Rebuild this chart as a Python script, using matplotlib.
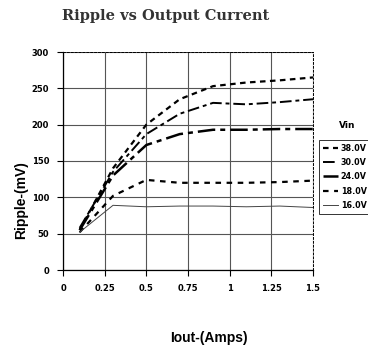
import matplotlib
matplotlib.use("Agg")
import matplotlib.pyplot as plt

iout = [0.1, 0.3, 0.5, 0.7, 0.9, 1.1, 1.3, 1.5]
labels = ["38.0V", "30.0V", "24.0V", "18.0V", "16.0V"]
v38 = [55, 140, 200, 235, 253, 258, 261, 265]
v30 = [58, 135, 187, 215, 230, 228, 231, 235]
v24 = [55, 130, 172, 187, 193, 193, 194, 194]
v18 = [52, 102, 124, 120, 120, 120, 121, 123]
v16 = [52, 89, 87, 88, 88, 87, 88, 86]
xticks = [0, 0.25, 0.5, 0.75, 1, 1.25, 1.5]
xticklabels = ["0", "0.25", "0.5", "0.75", "1", "1.25", "1.5"]
yticks = [0, 50, 100, 150, 200, 250, 300]

fig = plt.figure(figsize=(3.68, 3.49), dpi=100)
ax = fig.add_axes([63/368, 1-270/349, 250/368, 218/349])

styles = [
    dict(color="black", lw=1.6, dashes=(2.5, 2)),
    dict(color="black", lw=1.4, dashes=(6, 2, 2, 2)),
    dict(color="black", lw=1.8, dashes=(7, 2, 2, 2)),
    dict(color="black", lw=1.6, dashes=(2.5, 2.5)),
    dict(color="#444444", lw=0.7, linestyle="-"),
]
series = [v38, v30, v24, v18, v16]
for lab, s, st in zip(labels, series, styles):
    ax.plot(iout, s, label=lab, **st)

ax.set_xlim(0, 1.5)
ax.set_ylim(0, 300)
ax.set_xticks(xticks)
ax.set_xticklabels(xticklabels)
ax.set_yticks(yticks)
ax.grid(True, color="#555555", lw=0.8)
ax.set_axisbelow(True)
for sp in ["top", "right"]:
    ax.spines[sp].set_linestyle((0, (2, 2)))
    ax.spines[sp].set_linewidth(0.7)
for sp in ["left", "bottom"]:
    ax.spines[sp].set_linewidth(0.9)
ax.tick_params(direction="out", length=4, width=0.8, labelsize=6, pad=6)
for t in ax.get_xticklabels() + ax.get_yticklabels():
    t.set_fontweight("bold")

fig.text(166/368, 1-16/349, "Ripple vs Output Current", ha="center", va="center",
         fontsize=10.5, fontweight="bold", color="#333333",
         family=["DejaVu Serif", "DejaVu Sans"])
fig.text(209/368, 1-338/349, "Iout-(Amps)", ha="center", va="center",
         fontsize=10, fontweight="bold", family=["Liberation Sans Narrow", "Liberation Sans", "DejaVu Sans"])
fig.text(21/368, 1-200/349, "Ripple-(mV)", ha="center", va="center", rotation=90,
         fontsize=10, fontweight="bold", family=["Liberation Sans Narrow", "Liberation Sans", "DejaVu Sans"])
fig.text(347/368, 1-126/349, "Vin", ha="center", va="center", fontsize=6.5, fontweight="bold")

leg = fig.legend(loc="upper left", bbox_to_anchor=(319/368, 1-140/349),
                 prop=dict(size=5.8, weight="bold"), frameon=True, fancybox=False,
                 edgecolor="black", handlelength=1.9, labelspacing=0.66,
                 borderpad=0.45, handletextpad=0.35, borderaxespad=0)
leg.get_frame().set_linewidth(0.7)

fig.savefig("out.png", dpi=100)
